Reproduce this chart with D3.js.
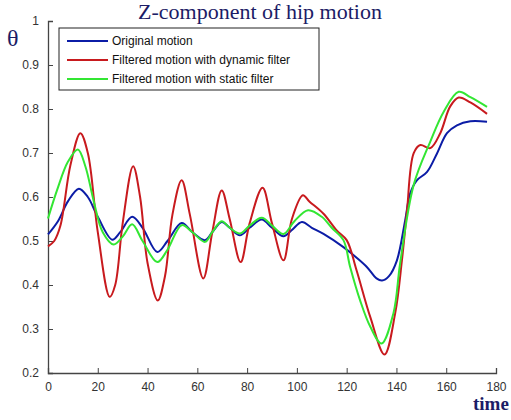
<!DOCTYPE html>
<html>
<head>
<meta charset="utf-8">
<script src="https://cdn.jsdelivr.net/npm/d3@7"></script>
<style>
  body { margin: 0; background: #fff; }
  svg { display: block; }
  .tick text { font-family: "Liberation Sans", Arial, sans-serif; font-size: 12px; fill: #333; }
  .legendText { font-family: "Liberation Sans", Arial, sans-serif; font-size: 12px; fill: #111; }
</style>
</head>
<body>
<div class="chart"></div>
<script>
const svgWidth = 511;
const svgHeight = 420;

const margin = { top: 21, right: 15, bottom: 47, left: 48 };
const width = svgWidth - margin.left - margin.right;
const height = svgHeight - margin.top - margin.bottom;

// series: [time, theta]
const originalMotion = [
  [0, 0.515], [4, 0.545], [8, 0.59], [12.4, 0.619], [16, 0.60], [20, 0.555],
  [25.8, 0.503], [29, 0.52], [33.8, 0.555], [38, 0.53], [43.9, 0.475], [48, 0.50],
  [53.7, 0.541], [58, 0.52], [63.1, 0.502], [66, 0.52], [69.8, 0.543], [73, 0.53],
  [77.1, 0.513], [81, 0.53], [85.9, 0.549], [90, 0.53], [94.6, 0.511], [98, 0.525],
  [102, 0.543], [106, 0.53], [110.7, 0.516], [118.7, 0.486], [124, 0.462],
  [128.1, 0.441], [132, 0.415], [134.2, 0.41], [137, 0.42], [140.2, 0.456],
  [143.5, 0.547], [145.5, 0.608], [148.2, 0.638], [152.3, 0.657], [156.3, 0.699],
  [160.3, 0.745], [164.3, 0.763], [169.7, 0.772], [176.4, 0.771]
];

const dynamicFilter = [
  [0, 0.488], [2.5, 0.50], [5, 0.535], [9, 0.672], [13, 0.745], [16, 0.70],
  [20, 0.52], [24.8, 0.373], [27, 0.40], [30, 0.54], [34.2, 0.670], [37, 0.60],
  [40, 0.45], [44.1, 0.365], [47, 0.42], [50, 0.56], [53.7, 0.638], [57, 0.56],
  [62.4, 0.415], [66, 0.52], [69.8, 0.615], [73, 0.55], [77.4, 0.452], [81, 0.54],
  [86.2, 0.621], [90, 0.54], [94.6, 0.456], [98, 0.55], [102.4, 0.604], [105, 0.59],
  [110.7, 0.562], [116, 0.524], [120, 0.502], [124, 0.433], [129.5, 0.327],
  [135.2, 0.242], [139.5, 0.336], [142.2, 0.456], [144.2, 0.566], [146.9, 0.699],
  [149.6, 0.718], [153.6, 0.711], [157.6, 0.745], [161.6, 0.806], [165, 0.826],
  [169.7, 0.815], [176.4, 0.789]
];

const staticFilter = [
  [0, 0.551], [3.6, 0.615], [8, 0.68], [12, 0.708], [15, 0.67], [18.4, 0.59],
  [22, 0.52], [26.4, 0.492], [30, 0.51], [33.8, 0.538], [38, 0.50], [43.9, 0.452],
  [48, 0.48], [53.7, 0.536], [58, 0.52], [63.1, 0.498], [66, 0.52], [69.8, 0.545],
  [73, 0.53], [77.1, 0.517], [81, 0.535], [85.9, 0.553], [90, 0.535], [94.6, 0.516],
  [99, 0.545], [104.5, 0.570], [110, 0.555], [114, 0.53], [118.7, 0.502],
  [121.4, 0.441], [125.4, 0.365], [129.5, 0.305], [134, 0.267], [138.8, 0.336],
  [141.5, 0.45], [146.9, 0.627], [153.6, 0.726], [159, 0.794], [165, 0.839],
  [169.7, 0.827], [176.4, 0.805]
];

const seriesNames = ['Original motion', 'Filtered motion with dynamic filter', 'Filtered motion with static filter'];
const seriesColors = ['#0b1ca6', '#c81a1e', '#33e633'];
const xTicks = [0, 20, 40, 60, 80, 100, 120, 140, 160, 180];
const yTicks = [0.2, 0.3, 0.4, 0.5, 0.6, 0.7, 0.8, 0.9, 1];

const svg = d3.select('.chart')
  .append('svg')
  .attr('width', svgWidth)
  .attr('height', svgHeight);

let chartGroup = svg.append('g')
  .attr('transform', `translate(${margin.left}, ${margin.top})`);

//scales
let xScale = d3.scaleLinear().domain([0, 180]).range([0, width]);
let yScale = d3.scaleLinear().domain([0.2, 1]).range([height, 0]);

//axes, ticks pointing inward like matlab
const bottomAxis = d3.axisBottom(xScale).tickValues(xTicks).tickSize(-5).tickPadding(9).tickFormat(d3.format('d'));
const leftAxis = d3.axisLeft(yScale).tickValues(yTicks).tickSize(-5).tickPadding(9).tickFormat(d => d === 1 ? '1' : d3.format('.1f')(d));

let xAxisG = chartGroup.append('g')
  .attr('transform', `translate(0, ${height})`)
  .call(bottomAxis);

let yAxisG = chartGroup.append('g')
  .call(leftAxis);

[xAxisG, yAxisG].forEach(g => {
  g.select('.domain').attr('stroke', '#444').attr('stroke-width', 1.3);
  g.selectAll('.tick line').attr('stroke', '#444');
});

//lines
const line = d3.line()
  .x(d => xScale(d[0]))
  .y(d => yScale(d[1]))
  .curve(d3.curveCatmullRom.alpha(0.5));

[originalMotion, dynamicFilter, staticFilter].forEach((s, i) => {
  chartGroup.append('path')
    .datum(s)
    .attr('fill', 'none')
    .attr('stroke', seriesColors[i])
    .attr('stroke-width', 2)
    .attr('d', line);
});

//legend
let legend = svg.append('g').attr('transform', 'translate(59, 28)');
legend.append('rect')
  .attr('width', 260)
  .attr('height', 62)
  .attr('fill', '#fff')
  .attr('stroke', '#222')
  .attr('stroke-width', 1);

seriesNames.forEach((name, i) => {
  legend.append('line')
    .attr('x1', 8).attr('x2', 49)
    .attr('y1', 13 + i * 19).attr('y2', 13 + i * 19)
    .attr('stroke', seriesColors[i])
    .attr('stroke-width', 2);
  legend.append('text')
    .attr('class', 'legendText')
    .attr('x', 53)
    .attr('y', 17 + i * 19)
    .text(name);
});

//titles
svg.append('text')
  .attr('x', 260)
  .attr('y', 19)
  .attr('text-anchor', 'middle')
  .style('font-family', '"Liberation Serif", "Times New Roman", serif')
  .style('font-size', '22px')
  .style('fill', '#1c1c66')
  .text('Z-component of hip motion');

svg.append('text')
  .attr('x', 7)
  .attr('y', 46)
  .style('font-family', '"Liberation Serif", "Times New Roman", serif')
  .style('font-size', '24px')
  .style('fill', '#1c1c66')
  .text('θ');

svg.append('text')
  .attr('x', 473)
  .attr('y', 410)
  .style('font-family', '"Liberation Serif", "Times New Roman", serif')
  .style('font-size', '19px')
  .style('font-weight', 'bold')
  .style('fill', '#1c1c66')
  .text('time');
</script>
</body>
</html>
